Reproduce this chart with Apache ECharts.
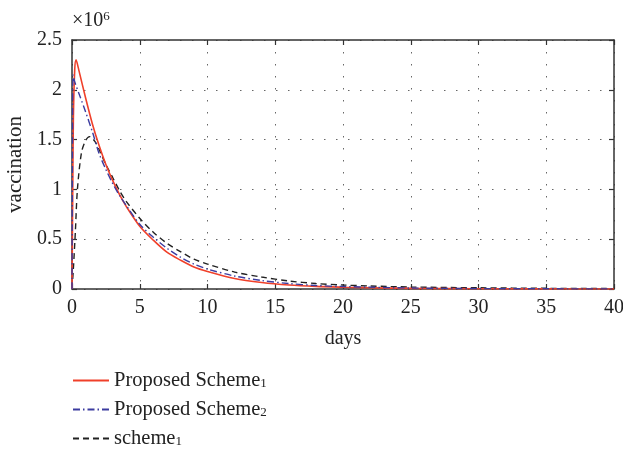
<!DOCTYPE html>
<html>
<head>
<meta charset="utf-8">
<script src="https://cdn.jsdelivr.net/npm/echarts@6/dist/echarts.min.js"></script>
<style>
  html, body { margin: 0; padding: 0; background: #fff; }
  #chart { width: 623px; height: 449px; }
</style>
</head>
<body>
<div id="chart"></div>
<script>
// Vaccination over time (values in units of 10^6)
const seriesNames = ['Proposed Scheme1', 'Proposed Scheme2', 'scheme1'];

const scheme1pDays = [0, 0.05, 0.1, 0.2, 0.3, 0.5, 1, 1.5, 2, 2.5, 3, 3.5, 4, 5, 6, 7, 8, 9, 10, 12, 14, 16, 18, 20, 22, 25, 30, 35, 40];
const scheme1pVals = [0, 0.9, 1.7, 2.2, 2.30, 2.2, 1.92, 1.66, 1.44, 1.25, 1.09, 0.95, 0.83, 0.63, 0.49, 0.37, 0.29, 0.22, 0.175, 0.105, 0.065, 0.04, 0.026, 0.018, 0.012, 0.006, 0.002, 0.001, 0.0];

const scheme2pDays = [0, 0.04, 0.08, 0.2, 0.6, 1, 1.5, 2, 2.5, 3, 3.5, 4, 5, 6, 7, 8, 9, 10, 12, 14, 16, 18, 20, 25, 30, 35, 40];
const scheme2pVals = [0, 1.5, 2.15, 2.08, 1.93, 1.78, 1.58, 1.36, 1.2, 1.06, 0.94, 0.84, 0.65, 0.52, 0.41, 0.32, 0.25, 0.2, 0.13, 0.085, 0.055, 0.035, 0.025, 0.01, 0.004, 0.002, 0.001];

const scheme1Days = [0, 0.1, 0.25, 0.4, 0.7, 1, 1.3, 1.7, 2, 2.5, 3, 3.5, 4, 5, 6, 7, 8, 9, 10, 12, 14, 16, 18, 20, 22, 25, 30, 35, 40];
const scheme1Vals = [0, 0.2, 0.58, 1.0, 1.37, 1.49, 1.53, 1.48, 1.40, 1.25, 1.12, 0.99, 0.88, 0.71, 0.57, 0.46, 0.375, 0.30, 0.25, 0.17, 0.12, 0.08, 0.055, 0.04, 0.03, 0.02, 0.012, 0.007, 0.004];

const xTicks = [0, 5, 10, 15, 20, 25, 30, 35, 40];
const yTicks = [0, 0.5, 1, 1.5, 2, 2.5];

const zip = (xs, ys) => xs.map((x, i) => [x, ys[i]]);

const FONT = 'Liberation Serif';
const FS = 20;
const AXIS_COLOR = '#333';
const gridLine = { show: true, lineStyle: { color: '#666', type: [1.5, 10.5], width: 1 } };

const chart = echarts.init(document.getElementById('chart'), null, { renderer: 'canvas' });

const baseAxis = {
  type: 'value',
  axisLine: { show: true, onZero: false, lineStyle: { color: AXIS_COLOR, width: 1.5 } },
  axisTick: { show: true, inside: true, length: 5, lineStyle: { color: AXIS_COLOR, width: 1.2 } },
};

// "Scheme1" -> "Scheme" with a subscript 1
const subLabel = (name) => {
  const m = name.match(/^(.*?)(\d)$/);
  return m ? m[1] + '{sub|' + m[2] + '}' : name;
};

chart.setOption({
  animation: false,
  backgroundColor: '#fff',
  grid: { left: 72, right: 9, top: 40, bottom: 160, containLabel: false, outerBoundsMode: 'none' },
  xAxis: [
    Object.assign({}, baseAxis, {
      position: 'bottom',
      min: xTicks[0], max: xTicks[xTicks.length - 1], interval: 5,
      name: 'days', nameLocation: 'middle', nameGap: 40,
      nameTextStyle: { fontFamily: FONT, fontSize: FS, color: '#222' },
      axisLabel: { fontFamily: FONT, fontSize: FS, color: '#222', margin: 9 },
      splitLine: gridLine,
    }),
    Object.assign({}, baseAxis, {
      position: 'top',
      min: xTicks[0], max: xTicks[xTicks.length - 1], interval: 5,
      axisLabel: { show: false },
      splitLine: { show: false },
    }),
  ],
  yAxis: [
    Object.assign({}, baseAxis, {
      position: 'left',
      min: yTicks[0], max: yTicks[yTicks.length - 1], interval: 0.5,
      name: 'vaccination', nameLocation: 'middle', nameGap: 40, nameRotate: 90,
      nameTextStyle: { fontFamily: FONT, fontSize: 21, color: '#222' },
      axisLabel: { fontFamily: FONT, fontSize: FS, color: '#222', margin: 10 },
      splitLine: gridLine,
    }),
    Object.assign({}, baseAxis, {
      position: 'right',
      min: yTicks[0], max: yTicks[yTicks.length - 1], interval: 0.5,
      axisLabel: { show: false },
      splitLine: { show: false },
    }),
  ],
  legend: {
    show: true,
    type: 'plain',
    orient: 'vertical',
    left: 72,
    top: 370,
    height: 120,
    padding: 0,
    itemWidth: 36,
    itemHeight: 14,
    itemGap: 8,
    itemStyle: { opacity: 0 },
    data: seriesNames,
    formatter: subLabel,
    textStyle: {
      fontFamily: FONT, fontSize: 20.5, color: '#222', lineHeight: 20,
      rich: { sub: { fontFamily: FONT, fontSize: 13, color: '#222', lineHeight: 20, verticalAlign: 'bottom', padding: [7, 0, 0, 0] } },
    },
  },
  graphic: [{
    type: 'text',
    left: 72,
    top: 10,
    style: {
      text: '×10{sup|6}',
      fontFamily: FONT, fontSize: FS, fill: '#222',
      rich: { sup: { fontFamily: FONT, fontSize: 13, fill: '#222', verticalAlign: 'top', padding: [0, 0, 8, 0] } },
    },
  }],
  series: [
    {
      name: seriesNames[0], type: 'line', showSymbol: false, symbol: 'none', smooth: 0.3,
      data: zip(scheme1pDays, scheme1pVals),
      lineStyle: { color: '#f0402a', width: 1.6, type: 'solid' },
      itemStyle: { color: '#f0402a' }, z: 3,
    },
    {
      name: seriesNames[1], type: 'line', showSymbol: false, symbol: 'none', smooth: 0.3,
      data: zip(scheme2pDays, scheme2pVals),
      lineStyle: { color: '#3c3ca0', width: 1.4, type: [7, 3, 1.5, 3] },
      itemStyle: { color: '#3c3ca0' }, z: 4,
    },
    {
      name: seriesNames[2], type: 'line', showSymbol: false, symbol: 'none', smooth: 0.3,
      data: zip(scheme1Days, scheme1Vals),
      lineStyle: { color: '#222', width: 1.4, type: [6, 4] },
      itemStyle: { color: '#222' }, z: 2,
    },
  ],
});
</script>
</body>
</html>
